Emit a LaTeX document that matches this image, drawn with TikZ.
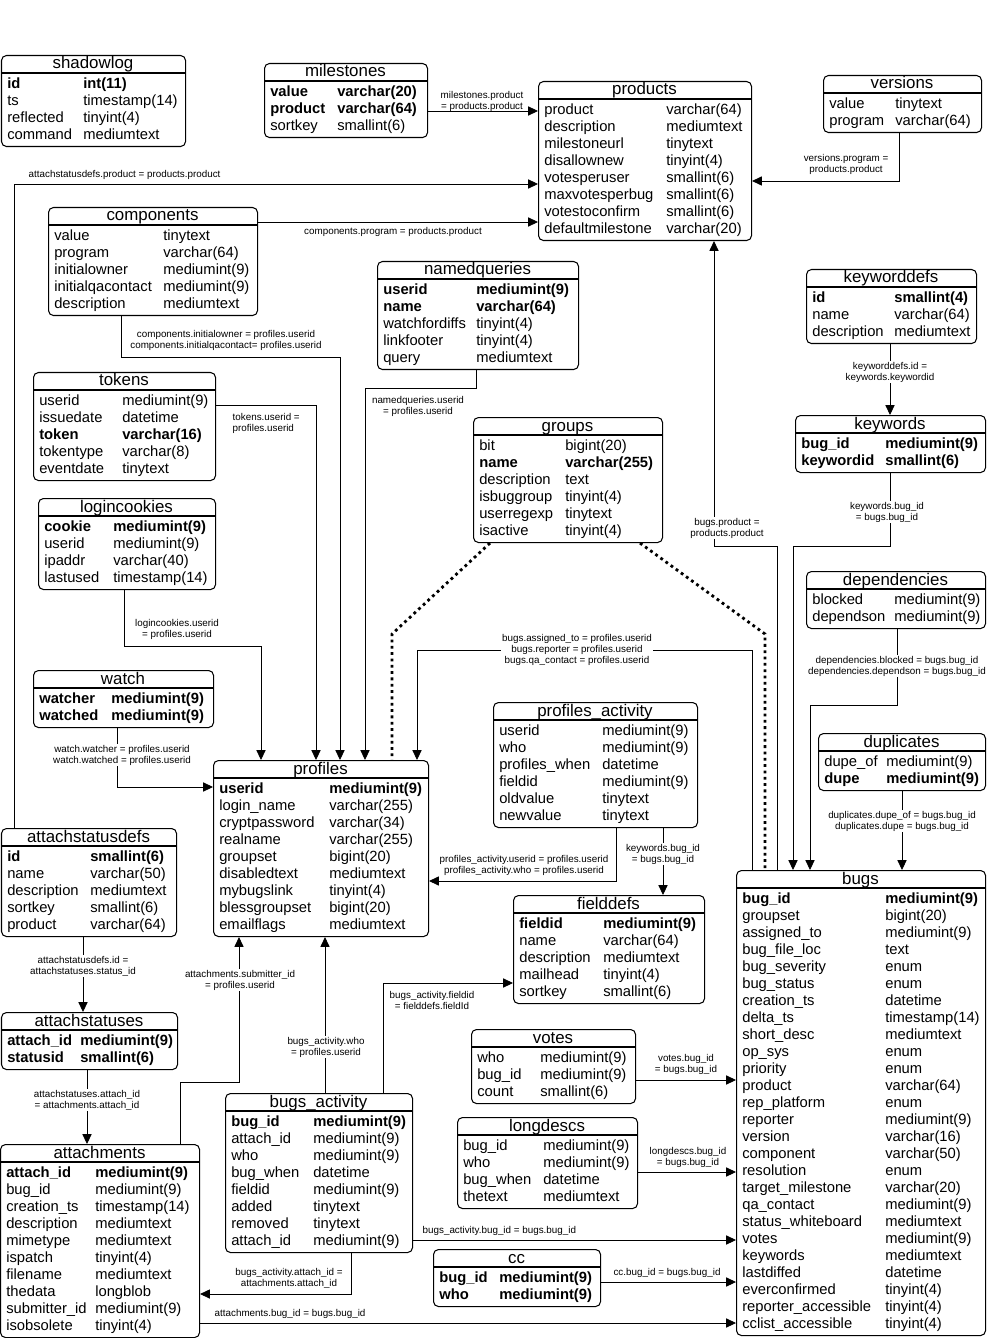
\documentclass[tikz,border=0pt]{standalone}
\usepackage{fontspec}
\setmainfont{Liberation Sans}
\usepackage{array}
\usetikzlibrary{arrows.meta}

\newlength{\pxu}
\setlength{\pxu}{0.025cm}
% table: name, x, y, width, height, title, first column width, rows
\newcommand{\dbtable}[8]{%
  \node[tbl, minimum width=#4*0.025cm, minimum height=#5*0.025cm] (#1) at (#2,#3) {};
  \node[ttl] (#1-t) at (#2+#4/2,#3+14) {#6};
  \draw[sep] (#2,#3+18) -- (#2+#4,#3+18);
  \node[rows] (#1-r) at (#2+6,#3+21) {\begin{tabular}{@{}p{#7\pxu}@{}l@{}}#8\end{tabular}};
}

\begin{document}
\begin{tikzpicture}[x=0.025cm, y=-0.025cm,
  >={Triangle[length=7pt,width=6.5pt]},
  tbl/.style={draw, rounded corners=3.5pt, line width=0.75pt, inner sep=0pt, anchor=north west},
  sep/.style={line width=0.75pt},
  ttl/.style={anchor=base, inner sep=0pt, font=\fontsize{12}{14}\selectfont},
  rows/.style={anchor=north west, inner sep=0pt, font=\fontsize{10.5}{12.09}\selectfont},
  fk/.style={->, line width=0.6pt},
  grp/.style={line width=2pt, dash pattern=on 2pt off 2.5pt},
  lbl/.style={font=\fontsize{7}{7.8}\selectfont, align=center, inner sep=1pt}]
\useasboundingbox (0,0) rectangle (1000,1338);

%tables
\dbtable{shadowlog}{1}{55}{184}{91}{shadowlog}{76}{%
  \textbf{id} & \textbf{int(11)}\\ ts & timestamp(14)\\ reflected & tinyint(4)\\ command & mediumtext}
\dbtable{milestones}{264}{63}{163}{74}{milestones}{67}{%
  \textbf{value} & \textbf{varchar(20)}\\ \textbf{product} & \textbf{varchar(64)}\\ sortkey & smallint(6)}
\dbtable{products}{538}{81}{213}{159}{products}{122}{%
  product & varchar(64)\\ description & mediumtext\\ milestoneurl & tinytext\\
  disallownew & tinyint(4)\\ votesperuser & smallint(6)\\ maxvotesperbug & smallint(6)\\
  votestoconfirm & smallint(6)\\ defaultmilestone & varchar(20)}
\dbtable{versions}{823}{75}{158}{57}{versions}{66}{%
  value & tinytext\\ program & varchar(64)}
\dbtable{components}{48}{207}{209}{108}{components}{109}{%
  value & tinytext\\ program & varchar(64)\\ initialowner & mediumint(9)\\
  initialqacontact & mediumint(9)\\ description & mediumtext}
\dbtable{namedqueries}{377}{261}{201}{108}{namedqueries}{93}{%
  \textbf{userid} & \textbf{mediumint(9)}\\ \textbf{name} & \textbf{varchar(64)}\\
  watchfordiffs & tinyint(4)\\ linkfooter & tinyint(4)\\ query & mediumtext}
\dbtable{keyworddefs}{806}{269}{170}{74}{keyworddefs}{82}{%
  \textbf{id} & \textbf{smallint(4)}\\ name & varchar(64)\\ description & mediumtext}
\dbtable{tokens}{33}{372}{182}{108}{tokens}{83}{%
  userid & mediumint(9)\\ issuedate & datetime\\ \textbf{token} & \textbf{varchar(16)}\\
  tokentype & varchar(8)\\ eventdate & tinytext}
\dbtable{groups}{473}{417}{189}{125}{groups}{86}{%
  bit & bigint(20)\\ \textbf{name} & \textbf{varchar(255)}\\ description & text\\
  isbuggroup & tinyint(4)\\ userregexp & tinytext\\ isactive & tinyint(4)}
\dbtable{keywords}{795}{415}{190}{57}{keywords}{84}{%
  \textbf{bug\_id} & \textbf{mediumint(9)}\\ \textbf{keywordid} & \textbf{smallint(6)}}
\dbtable{logincookies}{38}{498}{177}{91}{logincookies}{69}{%
  \textbf{cookie} & \textbf{mediumint(9)}\\ userid & mediumint(9)\\ ipaddr & varchar(40)\\
  lastused & timestamp(14)}
\dbtable{dependencies}{806}{571}{179}{57}{dependencies}{82}{%
  blocked & mediumint(9)\\ dependson & mediumint(9)}
\dbtable{watch}{33}{670}{180}{57}{watch}{72}{%
  \textbf{watcher} & \textbf{mediumint(9)}\\ \textbf{watched} & \textbf{mediumint(9)}}
\dbtable{profilesactivity}{493}{702}{204}{125}{profiles\_activity}{103}{%
  userid & mediumint(9)\\ who & mediumint(9)\\ profiles\_when & datetime\\
  fieldid & mediumint(9)\\ oldvalue & tinytext\\ newvalue & tinytext}
\dbtable{duplicates}{818}{733}{167}{57}{duplicates}{62}{%
  dupe\_of & mediumint(9)\\ \textbf{dupe} & \textbf{mediumint(9)}}
\dbtable{profiles}{213}{760}{215}{176}{profiles}{110}{%
  \textbf{userid} & \textbf{mediumint(9)}\\ login\_name & varchar(255)\\
  cryptpassword & varchar(34)\\ realname & varchar(255)\\ groupset & bigint(20)\\
  disabledtext & mediumtext\\ mybugslink & tinyint(4)\\ blessgroupset & bigint(20)\\
  emailflags & mediumtext}
\dbtable{attachstatusdefs}{1}{828}{175}{108}{attachstatusdefs}{83}{%
  \textbf{id} & \textbf{smallint(6)}\\ name & varchar(50)\\ description & mediumtext\\
  sortkey & smallint(6)\\ product & varchar(64)}
\dbtable{bugs}{736}{870}{249}{465}{bugs}{143}{%
  \textbf{bug\_id} & \textbf{mediumint(9)}\\ groupset & bigint(20)\\
  assigned\_to & mediumint(9)\\ bug\_file\_loc & text\\ bug\_severity & enum\\
  bug\_status & enum\\ creation\_ts & datetime\\ delta\_ts & timestamp(14)\\
  short\_desc & mediumtext\\ op\_sys & enum\\ priority & enum\\ product & varchar(64)\\
  rep\_platform & enum\\ reporter & mediumint(9)\\ version & varchar(16)\\
  component & varchar(50)\\ resolution & enum\\ target\_milestone & varchar(20)\\
  qa\_contact & mediumint(9)\\ status\_whiteboard & mediumtext\\ votes & mediumint(9)\\
  keywords & mediumtext\\ lastdiffed & datetime\\ everconfirmed & tinyint(4)\\
  reporter\_accessible & tinyint(4)\\ cclist\_accessible & tinyint(4)}
\dbtable{fielddefs}{513}{895}{191}{108}{fielddefs}{84}{%
  \textbf{fieldid} & \textbf{mediumint(9)}\\ name & varchar(64)\\
  description & mediumtext\\ mailhead & tinyint(4)\\ sortkey & smallint(6)}
\dbtable{attachstatuses}{1}{1012}{176}{57}{attachstatuses}{73}{%
  \textbf{attach\_id} & \textbf{mediumint(9)}\\ \textbf{statusid} & \textbf{smallint(6)}}
\dbtable{votes}{471}{1029}{164}{74}{votes}{63}{%
  who & mediumint(9)\\ bug\_id & mediumint(9)\\ count & smallint(6)}
\dbtable{bugsactivity}{225}{1093}{187}{159}{bugs\_activity}{82}{%
  \textbf{bug\_id} & \textbf{mediumint(9)}\\ attach\_id & mediumint(9)\\
  who & mediumint(9)\\ bug\_when & datetime\\ fieldid & mediumint(9)\\
  added & tinytext\\ removed & tinytext\\ attach\_id & mediumint(9)}
\dbtable{longdescs}{457}{1117}{180}{91}{longdescs}{80}{%
  bug\_id & mediumint(9)\\ who & mediumint(9)\\ bug\_when & datetime\\ thetext & mediumtext}
\dbtable{attachments}{0}{1144}{199}{193}{attachments}{89}{%
  \textbf{attach\_id} & \textbf{mediumint(9)}\\ bug\_id & mediumint(9)\\
  creation\_ts & timestamp(14)\\ description & mediumtext\\ mimetype & mediumtext\\
  ispatch & tinyint(4)\\ filename & mediumtext\\ thedata & longblob\\
  submitter\_id & mediumint(9)\\ isobsolete & tinyint(4)}
\dbtable{cc}{433}{1249}{167}{57}{cc}{60}{%
  \textbf{bug\_id} & \textbf{mediumint(9)}\\ \textbf{who} & \textbf{mediumint(9)}}

%milestones to products
\draw[fk] (milestones.east |- 0,111) -- (products.west |- 0,111);
\node[lbl] (l-milestones) at (482,101) {milestones.product\\= products.product};
%attachstatusdefs to products
\draw[fk] (attachstatusdefs.north -| 14,0) |- (products.west |- 0,184);
\node[lbl, anchor=west] (l-asdprod) at (27,175) {attachstatusdefs.product = products.product};
%components to products
\draw[fk] (components.east |- 0,222) -- (products.west |- 0,222);
\node[lbl] (l-compprod) at (393,232) {components.program = products.product};
%versions to products
\draw[fk] (versions.south -| 899,0) |- (products.east |- 0,181);
\node[lbl] (l-versions) at (846,164) {versions.program =\\products.product};
%bugs to products
\draw[fk] (bugs.north -| 777,0) |- (714,546) -- (products.south -| 714,0);
\node[lbl, fill=white] (l-bugsprod) at (727,528) {bugs.product =\\products.product};

%components to profiles
\draw[fk] (components.south -| 121,0) -- (121,357) -| (profiles.north -| 340,0);
\node[lbl] (l-compprof) at (226,340)
  {components.initialowner = profiles.userid\\components.initialqacontact= profiles.userid};
%tokens to profiles
\draw[fk] (tokens.east |- 0,405) -| (profiles.north -| 316,0);
\node[lbl, anchor=west, align=left] (l-tokens) at (231,423) {tokens.userid =\\profiles.userid};
%namedqueries to profiles
\draw[fk] (namedqueries.south -| 476,0) -- (476,388) -| (profiles.north -| 365,0);
\node[lbl] (l-namedq) at (418,406) {namedqueries.userid\\= profiles.userid};
%logincookies to profiles
\draw[fk] (logincookies.south -| 124,0) -- (124,646) -| (profiles.north -| 261,0);
\node[lbl] (l-cookies) at (177,629) {logincookies.userid\\= profiles.userid};
%watch to profiles
\draw[fk] (watch.south -| 117,0) |- (profiles.west |- 0,787);
\node[lbl, fill=white] (l-watch) at (122,755)
  {watch.watcher = profiles.userid\\watch.watched = profiles.userid};
%groups
\draw[grp] (groups.south -| 490,0) -- (392,634) -- (profiles.north -| 392,0);
\draw[grp] (groups.south -| 640,0) -- (765,634) -- (bugs.north -| 765,0);
%bugs to profiles
\draw[fk] (bugs.north -| 752,0) -- (752,650) -| (profiles.north -| 417,0);
\node[lbl, fill=white] (l-bugsprof) at (577,650)
  {bugs.assigned\_to = profiles.userid\\bugs.reporter = profiles.userid\\bugs.qa\_contact = profiles.userid};
%profiles_activity to profiles
\draw[fk] (profilesactivity.south -| 616,0) |- (profiles.east |- 0,881);
\node[lbl] (l-paprof) at (524,865)
  {profiles\_activity.userid = profiles.userid\\profiles\_activity.who = profiles.userid};
%profiles_activity to fielddefs
\draw[fk] (profilesactivity.south -| 663,0) -- (fielddefs.north -| 663,0);
\node[lbl, fill=white] (l-pafd) at (663,854) {keywords.bug\_id\\= bugs.bug\_id};

%keyworddefs to keywords
\draw[fk] (keyworddefs.south -| 890,0) -- (keywords.north -| 890,0);
\node[lbl, fill=white] (l-kwdefs) at (890,372) {keyworddefs.id =\\keywords.keywordid};
%keywords to bugs
\draw[fk] (keywords.south -| 890,0) -- (890,546) -| (bugs.north -| 793,0);
\node[lbl, fill=white] (l-kw) at (887,512) {keywords.bug\_id\\= bugs.bug\_id};
%dependencies to bugs
\draw[fk] (dependencies.south -| 897,0) -- (897,705) -| (bugs.north -| 810,0);
\node[lbl, fill=white] (l-deps) at (897,666)
  {dependencies.blocked = bugs.bug\_id\\dependencies.dependson = bugs.bug\_id};
%duplicates to bugs
\draw[fk] (duplicates.south -| 902,0) -- (bugs.north -| 902,0);
\node[lbl, fill=white] (l-dupes) at (902,821)
  {duplicates.dupe\_of = bugs.bug\_id\\duplicates.dupe = bugs.bug\_id};

%attachstatusdefs to attachstatuses
\draw[fk] (attachstatusdefs.south -| 83,0) -- (attachstatuses.north -| 83,0);
\node[lbl, fill=white] (l-asd) at (83,966) {attachstatusdefs.id =\\attachstatuses.status\_id};
%attachstatuses to attachments
\draw[fk] (attachstatuses.south -| 87,0) -- (attachments.north -| 87,0);
\node[lbl, fill=white] (l-as) at (87,1100) {attachstatuses.attach\_id\\= attachments.attach\_id};
%attachments to profiles
\draw[fk] (attachments.north -| 180,0) -- (180,1082) -| (profiles.south -| 239,0);
\node[lbl, fill=white] (l-attprof) at (240,980) {attachments.submitter\_id\\= profiles.userid};
%bugs_activity to profiles
\draw[fk] (bugsactivity.north -| 325,0) -- (profiles.south -| 325,0);
\node[lbl, fill=white] (l-bawho) at (326,1047) {bugs\_activity.who\\= profiles.userid};
%bugs_activity to fielddefs
\draw[fk] (bugsactivity.north -| 383,0) |- (fielddefs.west |- 0,983);
\node[lbl] (l-bafd) at (432,1000) {bugs\_activity.fieldid\\= fielddefs.fieldId};
%bugs_activity to attachments
\draw[fk] (bugsactivity.south -| 351,0) |- (attachments.east |- 0,1294);
\node[lbl] (l-baatt) at (289,1278) {bugs\_activity.attach\_id =\\attachments.attach\_id};
%bugs_activity to bugs
\draw[fk] (bugsactivity.east |- 0,1240) -- (bugs.west |- 0,1240);
\node[lbl, anchor=west] (l-babugs) at (421,1231) {bugs\_activity.bug\_id = bugs.bug\_id};
%votes, longdescs, cc, attachments to bugs
\draw[fk] (votes.east |- 0,1080) -- (bugs.west |- 0,1080);
\node[lbl] (l-votes) at (686,1064) {votes.bug\_id\\= bugs.bug\_id};
\draw[fk] (longdescs.east |- 0,1172) -- (bugs.west |- 0,1172);
\node[lbl] (l-longd) at (688,1157) {longdescs.bug\_id\\= bugs.bug\_id};
\draw[fk] (cc.east |- 0,1282) -- (bugs.west |- 0,1282);
\node[lbl] (l-cc) at (667,1273) {cc.bug\_id = bugs.bug\_id};
\draw[fk] (attachments.east |- 0,1323) -- (bugs.west |- 0,1323);
\node[lbl, anchor=west] (l-attbugs) at (213,1314) {attachments.bug\_id = bugs.bug\_id};
\end{tikzpicture}
\end{document}
